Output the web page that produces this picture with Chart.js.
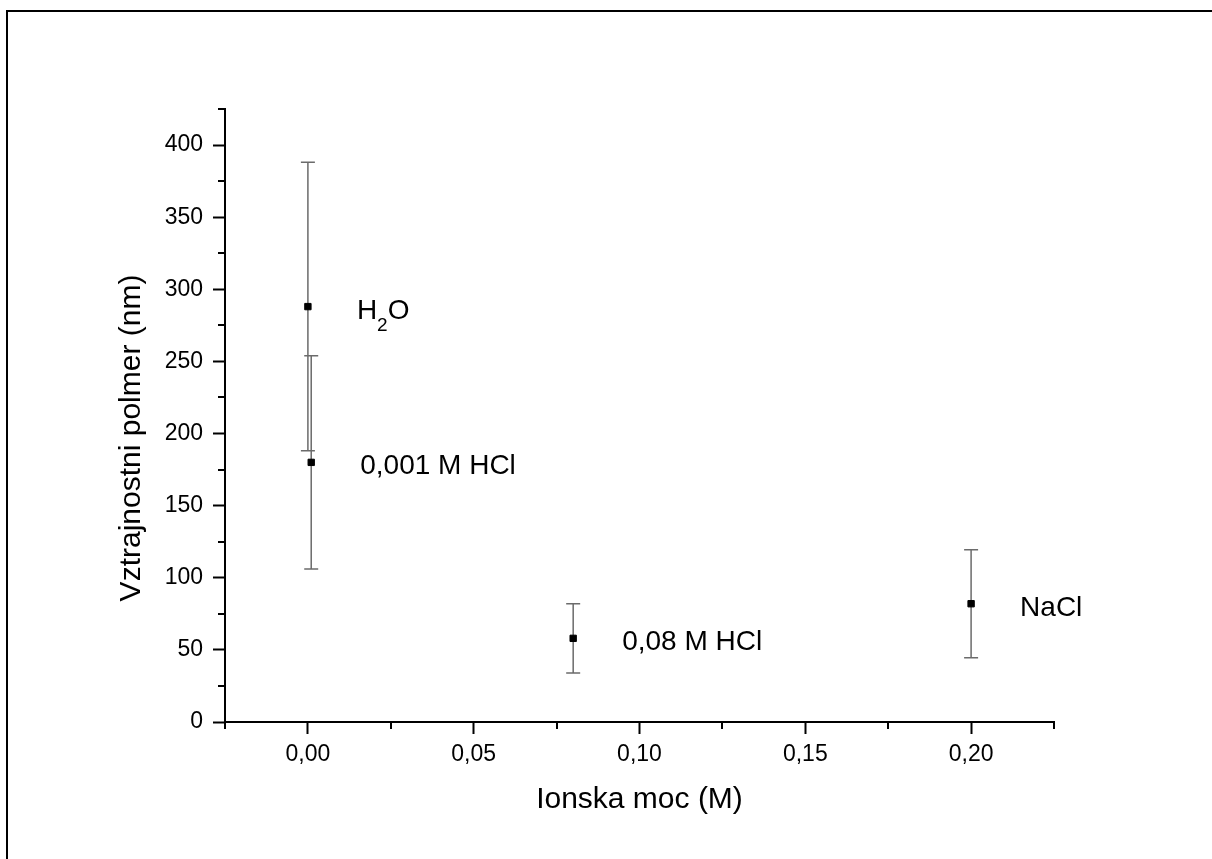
<!DOCTYPE html>
<html>
<head>
<meta charset="utf-8">
<script src="https://cdn.jsdelivr.net/npm/chart.js@4.4.1/dist/chart.umd.min.js"></script>
<style>
    html, body { margin: 0; padding: 0; background: #fff; }
    canvas { display: block; }
</style>
</head>
<body>
<canvas id="graf" width="1212" height="859"></canvas>
<script>

//***********************
//Podatki (odčitani s slike)
//***********************
const ionska_moc = [0, 0.001, 0.08, 0.2];
const polmer = [288, 180, 58, 82];
const napaka = [100, 74, 24, 37.5];
const oznake = ['H_2O', '0,001 M HCl', '0,08 M HCl', 'NaCl'];

const x_min = -0.025, x_max = 0.225, x_korak = 0.025;
const y_min = 0, y_max = 425, y_korak = 25;
const x_naslov = 'Ionska moc (M)';
const y_naslov = 'Vztrajnostni polmer (nm)';

const pisava = "'Liberation Sans', Arial, sans-serif";


//glavne oznake so na vsakem drugem koraku
function je_glavna(vrednost, korak){
    const k = vrednost / (korak * 2);
    return Math.abs(k - Math.round(k)) < 1e-6;
}


//besedilo z indeksi, npr. H_2O
function pisi_z_indeksi(ctx, besedilo, x, y){
    besedilo.split(/(_\d)/).forEach(del => {
        if (!del) return;
        if (del[0] == '_') {
            ctx.font = '19px ' + pisava;
            ctx.fillText(del.slice(1), x, y + 12);
            x += ctx.measureText(del.slice(1)).width;
        } else {
            ctx.font = '28px ' + pisava;
            ctx.fillText(del, x, y);
            x += ctx.measureText(del).width;
        }
    });
}


//***********************
//Okvir, napake, manjše oznake in napisi
//***********************
const dodatki = {
    id: 'dodatki',

    beforeDraw(chart){
        const ctx = chart.ctx;
        ctx.save();
        ctx.fillStyle = '#000';
        ctx.fillRect(6, 10, 2, chart.height);
        ctx.fillRect(6, 10, chart.width, 2);
        ctx.restore();
    },

    beforeDatasetsDraw(chart){
        const ctx = chart.ctx;
        const sx = chart.scales.x, sy = chart.scales.y;
        ctx.save();
        ctx.strokeStyle = '#6b6b6b';
        ctx.lineWidth = 1.5;
        ionska_moc.forEach((x, i) => {
            const px = sx.getPixelForValue(x);
            const zg = sy.getPixelForValue(polmer[i] + napaka[i]);
            const sp = sy.getPixelForValue(polmer[i] - napaka[i]);
            ctx.beginPath();
            ctx.moveTo(px, zg); ctx.lineTo(px, sp);
            ctx.moveTo(px - 7, zg); ctx.lineTo(px + 7, zg);
            ctx.moveTo(px - 7, sp); ctx.lineTo(px + 7, sp);
            ctx.stroke();
        });
        ctx.restore();
    },

    afterDraw(chart){
        const ctx = chart.ctx;
        const sx = chart.scales.x, sy = chart.scales.y;
        const ca = chart.chartArea;
        ctx.save();

        //manjše oznake na oseh
        ctx.fillStyle = '#000';
        sx.ticks.forEach(t => {
            if (je_glavna(t.value, x_korak)) return;
            const px = Math.round(sx.getPixelForValue(t.value));
            ctx.fillRect(px - 1, ca.bottom, 2, 7);
        });
        sy.ticks.forEach(t => {
            if (je_glavna(t.value, y_korak)) return;
            const py = Math.round(sy.getPixelForValue(t.value));
            ctx.fillRect(ca.left - 7, py - 1, 7, 2);
        });

        //napisi ob točkah
        ctx.textBaseline = 'alphabetic';
        ctx.textAlign = 'left';
        oznake.forEach((o, i) => {
            const px = sx.getPixelForValue(ionska_moc[i]);
            const py = sy.getPixelForValue(polmer[i]);
            pisi_z_indeksi(ctx, o, px + 49, py + 12);
        });

        //naslov y osi
        ctx.translate(132, 438);
        ctx.rotate(-Math.PI / 2);
        ctx.font = '30px ' + pisava;
        ctx.textAlign = 'center';
        ctx.textBaseline = 'middle';
        ctx.fillText(y_naslov, 0, 0);
        ctx.restore();
    }
};


new Chart(document.getElementById('graf'), {
    type: 'scatter',
    data: {
        datasets: [{
            data: ionska_moc.map((x, i) => ({x: x, y: polmer[i]})),
            pointStyle: 'rect',
            pointRadius: 4.5,
            pointHoverRadius: 4.5,
            backgroundColor: '#000',
            borderColor: '#000',
            borderWidth: 1
        }]
    },
    options: {
        responsive: false,
        devicePixelRatio: 1,
        animation: false,
        layout: {
            padding: {left: 0, top: 109, right: 158, bottom: 0}
        },
        plugins: {
            legend: {display: false},
            tooltip: {enabled: false}
        },
        scales: {
            x: {
                type: 'linear',
                min: x_min,
                max: x_max,
                afterFit: s => { s.height = 137; },
                ticks: {
                    stepSize: x_korak,
                    autoSkip: false,
                    maxRotation: 0,
                    padding: 7,
                    color: '#000',
                    font: {family: pisava, size: 23},
                    callback: v => je_glavna(v, x_korak) ? v.toFixed(2).replace('.', ',') : ''
                },
                grid: {
                    drawOnChartArea: false,
                    tickLength: 12,
                    tickWidth: 2,
                    tickColor: c => (c.tick && !je_glavna(c.tick.value, x_korak)) ? 'rgba(0,0,0,0)' : '#000'
                },
                border: {color: '#000', width: 2},
                title: {
                    display: true,
                    text: x_naslov,
                    color: '#000',
                    font: {family: pisava, size: 30},
                    padding: {top: 0, bottom: 41}
                }
            },
            y: {
                min: y_min,
                max: y_max,
                afterFit: s => { s.width = 225; },
                ticks: {
                    stepSize: y_korak,
                    autoSkip: false,
                    padding: 10,
                    color: '#000',
                    font: {family: pisava, size: 23},
                    callback: v => je_glavna(v, y_korak) ? String(v) : ''
                },
                grid: {
                    drawOnChartArea: false,
                    tickLength: 12,
                    tickWidth: 2,
                    tickColor: c => (c.tick && !je_glavna(c.tick.value, y_korak)) ? 'rgba(0,0,0,0)' : '#000'
                },
                border: {color: '#000', width: 2}
            }
        }
    },
    plugins: [dodatki]
});

</script>
</body>
</html>
